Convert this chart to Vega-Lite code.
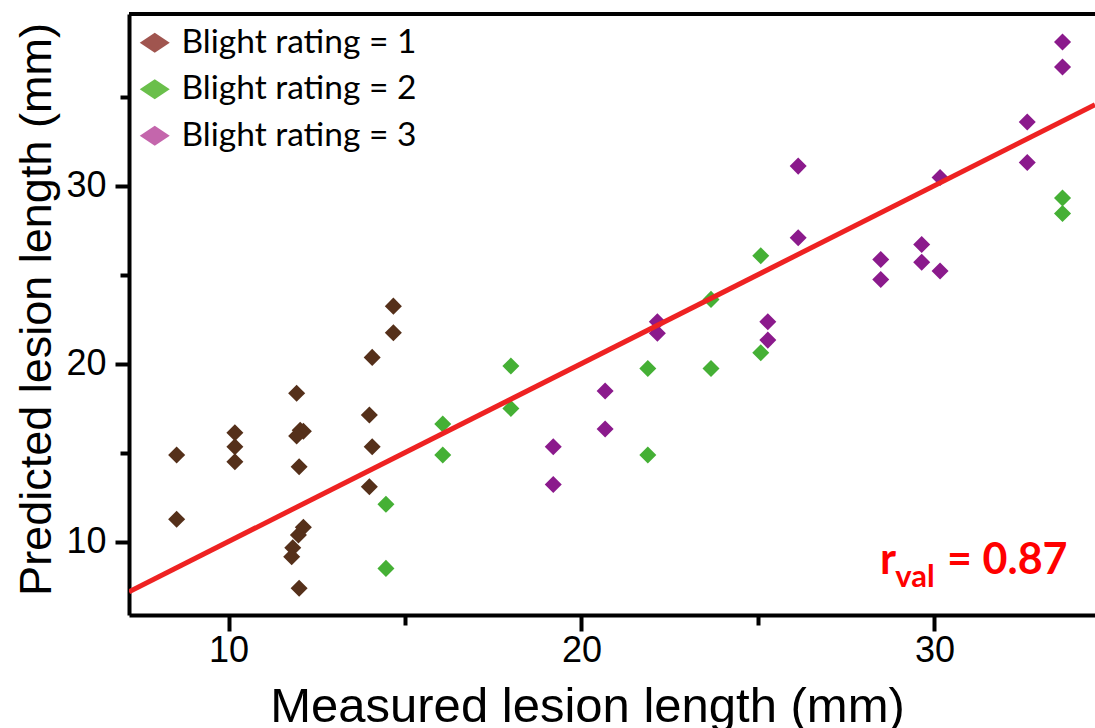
{
  "$schema": "https://vega.github.io/schema/vega-lite/v6.json",
  "width": 966,
  "height": 601,
  "autosize": {"type": "none"},
  "padding": {"left": 129, "top": 14, "right": 0, "bottom": 113},
  "background": "white",
  "config": {"view": {"stroke": null}},
  "datasets": {
    "points": [
      {"measured": 8.53, "predicted": 14.86, "rating": 1},
      {"measured": 8.53, "predicted": 11.25, "rating": 1},
      {"measured": 10.18, "predicted": 16.11, "rating": 1},
      {"measured": 10.18, "predicted": 15.33, "rating": 1},
      {"measured": 10.18, "predicted": 14.48, "rating": 1},
      {"measured": 11.93, "predicted": 18.33, "rating": 1},
      {"measured": 12.03, "predicted": 16.26, "rating": 1},
      {"measured": 12.12, "predicted": 16.2, "rating": 1},
      {"measured": 11.93, "predicted": 15.93, "rating": 1},
      {"measured": 12.0, "predicted": 14.2, "rating": 1},
      {"measured": 12.12, "predicted": 10.8, "rating": 1},
      {"measured": 11.98, "predicted": 10.37, "rating": 1},
      {"measured": 11.82, "predicted": 9.65, "rating": 1},
      {"measured": 11.79, "predicted": 9.15, "rating": 1},
      {"measured": 12.0, "predicted": 7.37, "rating": 1},
      {"measured": 14.67, "predicted": 23.23, "rating": 1},
      {"measured": 14.67, "predicted": 21.73, "rating": 1},
      {"measured": 14.07, "predicted": 20.35, "rating": 1},
      {"measured": 13.99, "predicted": 17.11, "rating": 1},
      {"measured": 14.07, "predicted": 15.33, "rating": 1},
      {"measured": 13.99, "predicted": 13.08, "rating": 1},
      {"measured": 14.46, "predicted": 12.09, "rating": 2},
      {"measured": 14.46, "predicted": 8.49, "rating": 2},
      {"measured": 16.07, "predicted": 16.6, "rating": 2},
      {"measured": 16.07, "predicted": 14.86, "rating": 2},
      {"measured": 18.0, "predicted": 19.86, "rating": 2},
      {"measured": 18.0, "predicted": 17.48, "rating": 2},
      {"measured": 21.88, "predicted": 19.73, "rating": 2},
      {"measured": 21.88, "predicted": 14.86, "rating": 2},
      {"measured": 23.67, "predicted": 23.61, "rating": 2},
      {"measured": 23.67, "predicted": 19.73, "rating": 2},
      {"measured": 25.08, "predicted": 26.06, "rating": 2},
      {"measured": 25.08, "predicted": 20.61, "rating": 2},
      {"measured": 33.63, "predicted": 29.31, "rating": 2},
      {"measured": 33.63, "predicted": 28.44, "rating": 2},
      {"measured": 19.2, "predicted": 15.33, "rating": 3},
      {"measured": 19.2, "predicted": 13.21, "rating": 3},
      {"measured": 20.67, "predicted": 18.46, "rating": 3},
      {"measured": 20.67, "predicted": 16.32, "rating": 3},
      {"measured": 22.15, "predicted": 22.35, "rating": 3},
      {"measured": 22.15, "predicted": 21.7, "rating": 3},
      {"measured": 25.28, "predicted": 22.35, "rating": 3},
      {"measured": 25.28, "predicted": 21.32, "rating": 3},
      {"measured": 26.14, "predicted": 31.1, "rating": 3},
      {"measured": 26.14, "predicted": 27.07, "rating": 3},
      {"measured": 30.16, "predicted": 30.46, "rating": 3},
      {"measured": 28.48, "predicted": 25.85, "rating": 3},
      {"measured": 28.48, "predicted": 24.73, "rating": 3},
      {"measured": 29.64, "predicted": 26.7, "rating": 3},
      {"measured": 29.64, "predicted": 25.7, "rating": 3},
      {"measured": 30.16, "predicted": 25.21, "rating": 3},
      {"measured": 32.63, "predicted": 33.58, "rating": 3},
      {"measured": 32.63, "predicted": 31.3, "rating": 3},
      {"measured": 33.63, "predicted": 38.08, "rating": 3},
      {"measured": 33.63, "predicted": 36.67, "rating": 3}
    ],
    "fit": [
      {"measured": 7.18, "predicted": 7.18},
      {"measured": 34.55, "predicted": 34.55}
    ]
  },
  "layer": [
    {
      "data": {"name": "points"},
      "mark": {"type": "rule", "color": "black", "strokeWidth": 4, "clip": false},
      "encoding": {
        "y": {"datum": 39.65, "type": "quantitative"}
      }
    },
    {
      "data": {"name": "points"},
      "mark": {"type": "point", "shape": "diamond", "filled": true, "size": 290, "opacity": 0},
      "encoding": {
        "x": {"field": "measured", "type": "quantitative"},
        "y": {"field": "predicted", "type": "quantitative"},
        "color": {
          "field": "rating", "type": "nominal",
          "scale": {"domain": [1, 2, 3], "range": ["#A0554F", "#6ABF4B", "#C466AC"]},
          "legend": {
            "title": null,
            "orient": "none",
            "legendX": 9,
            "legendY": 12,
            "padding": 0,
            "symbolType": "M-1,0L0,-0.67L1,0L0,0.67Z",
            "symbolSize": 900,
            "symbolStrokeWidth": 0,
            "symbolOpacity": 1,
            "labelExpr": "'Blight rating = ' + datum.label",
            "labelFont": "Lato",
            "labelFontSize": 33.5,
            "labelColor": "black",
            "labelOffset": 10,
            "rowPadding": 11.5,
            "labelLimit": 400
          }
        }
      }
    },
    {
      "data": {"name": "points"},
      "mark": {"type": "point", "shape": "diamond", "filled": true, "size": 290, "opacity": 1},
      "encoding": {
        "x": {
          "field": "measured", "type": "quantitative",
          "scale": {"domain": [7.18, 34.55], "nice": false, "zero": false},
          "axis": {
            "title": "Measured lesion length (mm)",
            "values": [10, 15, 20, 25, 30],
            "labelExpr": "datum.value % 10 === 0 ? datum.label : ''",
            "grid": false,
            "domainColor": "black", "domainWidth": 4,
            "tickColor": "black", "tickWidth": 4,
            "tickSize": {"condition": {"test": "datum.value % 10 === 0", "value": 16}, "value": 10},
            "labelFont": "Liberation Sans", "labelFontSize": 36, "labelColor": "black",
            "labelPadding": 2, "labelFlush": false,
            "titleFont": "Liberation Sans", "titleFontSize": 49, "titleFontWeight": "normal", "titleColor": "black",
            "titleX": 458, "titleY": 106, "titleBaseline": "alphabetic", "titleAlign": "center", "titleAnchor": null
          }
        },
        "y": {
          "field": "predicted", "type": "quantitative",
          "scale": {"domain": [5.87, 39.65], "nice": false, "zero": false},
          "axis": {
            "title": "Predicted lesion length (mm)",
            "values": [10, 15, 20, 25, 30, 35],
            "labelExpr": "datum.value % 10 === 0 ? datum.label : ''",
            "grid": false,
            "domainColor": "black", "domainWidth": 4,
            "tickColor": "black", "tickWidth": 4,
            "tickSize": {"condition": {"test": "datum.value % 10 === 0", "value": 14}, "value": 9},
            "labelFont": "Liberation Sans", "labelFontSize": 36, "labelColor": "black",
            "labelPadding": 9, "labelFlush": false,
            "titleFont": "Liberation Sans", "titleFontSize": 45, "titleFontWeight": "normal", "titleColor": "black",
            "titleX": -79, "titleY": 295, "titleAngle": -90, "titleBaseline": "alphabetic", "titleAlign": "center", "titleAnchor": null
          }
        },
        "fill": {
          "field": "rating", "type": "nominal",
          "scale": {"domain": [1, 2, 3], "range": ["#55301A", "#45B035", "#8B1A8C"]},
          "legend": null
        }
      }
    },
    {
      "data": {"name": "fit"},
      "mark": {"type": "line", "color": "#EE2222", "strokeWidth": 5, "clip": true},
      "encoding": {
        "x": {"field": "measured", "type": "quantitative"},
        "y": {"field": "predicted", "type": "quantitative"}
      }
    },
    {
      "data": {"values": [{}]},
      "mark": {"type": "text", "text": "r", "font": "Lato", "fontWeight": "bold", "fontSize": 43, "color": "#FF0000", "align": "left", "baseline": "alphabetic"},
      "encoding": {
        "x": {"datum": 28.46, "type": "quantitative"},
        "y": {"datum": 8.17, "type": "quantitative"}
      }
    },
    {
      "data": {"values": [{}]},
      "mark": {"type": "text", "text": "val", "font": "Lato", "fontWeight": "bold", "fontSize": 31, "color": "#FF0000", "align": "left", "baseline": "alphabetic"},
      "encoding": {
        "x": {"datum": 28.89, "type": "quantitative"},
        "y": {"datum": 7.46, "type": "quantitative"}
      }
    },
    {
      "data": {"values": [{}]},
      "mark": {"type": "text", "text": "= 0.87", "font": "Lato", "fontWeight": "bold", "fontSize": 43, "color": "#FF0000", "align": "left", "baseline": "alphabetic"},
      "encoding": {
        "x": {"datum": 30.36, "type": "quantitative"},
        "y": {"datum": 8.17, "type": "quantitative"}
      }
    }
  ]
}
